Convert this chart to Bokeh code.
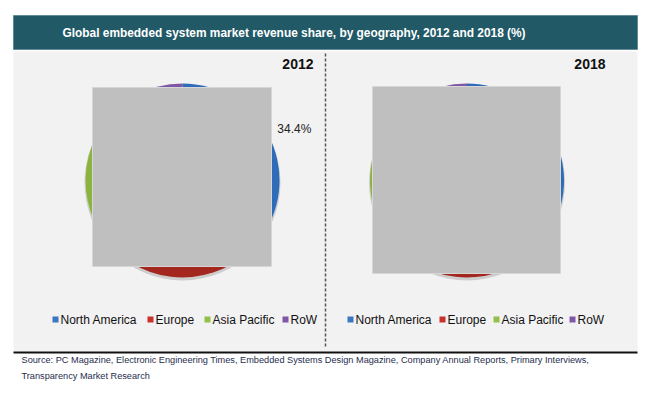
import numpy as np
from bokeh.plotting import figure
from bokeh.models import Range1d
from bokeh.core.properties import value
from bokeh.embed import file_html
from bokeh.resources import INLINE

# ---------------- data ----------------
title_text = "Global embedded system market revenue share, by geography, 2012 and 2018 (%)"
regions = ["North America", "Europe", "Asia Pacific", "RoW"]
years = ["2012", "2018"]
share_2012 = [34.4, 28.0, 29.5, 8.1]
share_2018 = [32.0, 26.5, 33.0, 8.5]
shown_labels_2012 = [True, False, False, False]
shown_labels_2018 = [False, False, False, False]
pie_colors = ["#2e6cb9", "#a3271f", "#8bb43e", "#7e57a6"]
legend_colors = ["#3b77c0", "#c9302c", "#93c047", "#7e57a6"]
source_lines = [
    "Source: PC Magazine,  Electronic Engineering  Times,  Embedded Systems Design Magazine,  Company  Annual Reports, Primary  Interviews,",
    "Transparency  Market Research",
]

W, H = 646, 390
FONT = "Liberation Sans"


def Y(py):
    return 393 - py


p = figure(width=W, height=H, x_range=Range1d(0, W), y_range=Range1d(393 - H, 393),
           output_backend="svg", toolbar_location=None, min_border=0)
p.axis.visible = False
p.grid.visible = False
p.outline_line_color = None
p.background_fill_color = "white"
p.border_fill_color = "white"

# title bar
p.quad(left=13, right=637, top=Y(15), bottom=Y(49), fill_color="#215967",
       line_color="#5f8c98", line_width=1)
p.text(x=[62], y=[Y(32)], text=[title_text], text_font=value(FONT),
       text_font_style="bold", text_font_size="11.9px", text_color="white",
       text_baseline="middle", text_align="left")

# panel background
p.quad(left=13, right=637, top=Y(51), bottom=Y(351), fill_color="#f2f2f2", line_color=None)
# divider
p.segment(x0=[325], y0=[Y(53)], x1=[325], y1=[Y(348)], line_color="#555555",
          line_width=1.5, line_dash="3 2")
# bottom rule
p.segment(x0=[13], y0=[Y(352)], x1=[637], y1=[Y(352)], line_color="#111111", line_width=2)

centers = [(182, 180), (466.5, 180)]
radius = 97
year_label_right = [313, 605]
rects = [(92, 271, 87, 266), (372, 560, 86, 273)]
legend_x = [[52, 147, 204, 282], [347, 439, 493, 569]]

for i, (yr, shares, shown) in enumerate(zip(years, [share_2012, share_2018],
                                             [shown_labels_2012, shown_labels_2018])):
    cx, cy = centers[i]
    vals = np.array(shares, dtype=float)
    frac = vals / vals.sum()
    cum = np.concatenate([[0], np.cumsum(frac)])
    start = np.pi / 2 - cum[:-1] * 2 * np.pi
    end = np.pi / 2 - cum[1:] * 2 * np.pi
    # shadow
    p.circle(x=[cx], y=[Y(cy) - 2], radius=radius + 1, fill_color="#8a8a8a",
             fill_alpha=0.35, line_color=None)
    p.wedge(x=cx, y=Y(cy), radius=radius, start_angle=start, end_angle=end,
            direction="clock", fill_color=pie_colors, line_color=None)
    # data labels
    mid = (cum[:-1] + cum[1:]) / 2 * 2 * np.pi
    for k in range(len(regions)):
        if shown[k]:
            lr = 120
            lx = cx + lr * np.sin(mid[k])
            ly = Y(cy) + lr * np.cos(mid[k])
            p.text(x=[lx], y=[ly], text=[f"{shares[k]}%"], text_font=value(FONT),
                   text_font_size="12px", text_color="#222222",
                   text_align="center", text_baseline="middle",
                   x_offset=6, y_offset=5)
    # occluding grey rectangle
    l, r, t, b = rects[i]
    p.quad(left=l, right=r, top=Y(t), bottom=Y(b), fill_color="#bfbfbf",
           line_color="#d6d6d6", line_width=1)
    # year label
    p.text(x=[year_label_right[i]], y=[Y(63)], text=[yr], text_font=value(FONT),
           text_font_style="bold", text_font_size="14px", text_color="#111111",
           text_align="right", text_baseline="middle")
    # legend
    xs = legend_x[i]
    p.scatter(x=[x + 3 for x in xs], y=[Y(319)] * 4, marker="square", size=6,
              fill_color=legend_colors, line_color=None)
    p.text(x=[x + 8 for x in xs], y=[Y(319)] * 4, text=regions, text_font=value(FONT),
           text_font_size="12px", text_color="#111111", text_baseline="middle",
           text_align="left")

# source
for j, line in enumerate(source_lines):
    p.text(x=[21], y=[Y(359 + 16 * j)], text=[line], text_font=value(FONT),
           text_font_size="9.2px", text_color="#1f2d4d", text_baseline="middle",
           text_align="left")

open("out.html", "w").write(file_html(p, INLINE))
